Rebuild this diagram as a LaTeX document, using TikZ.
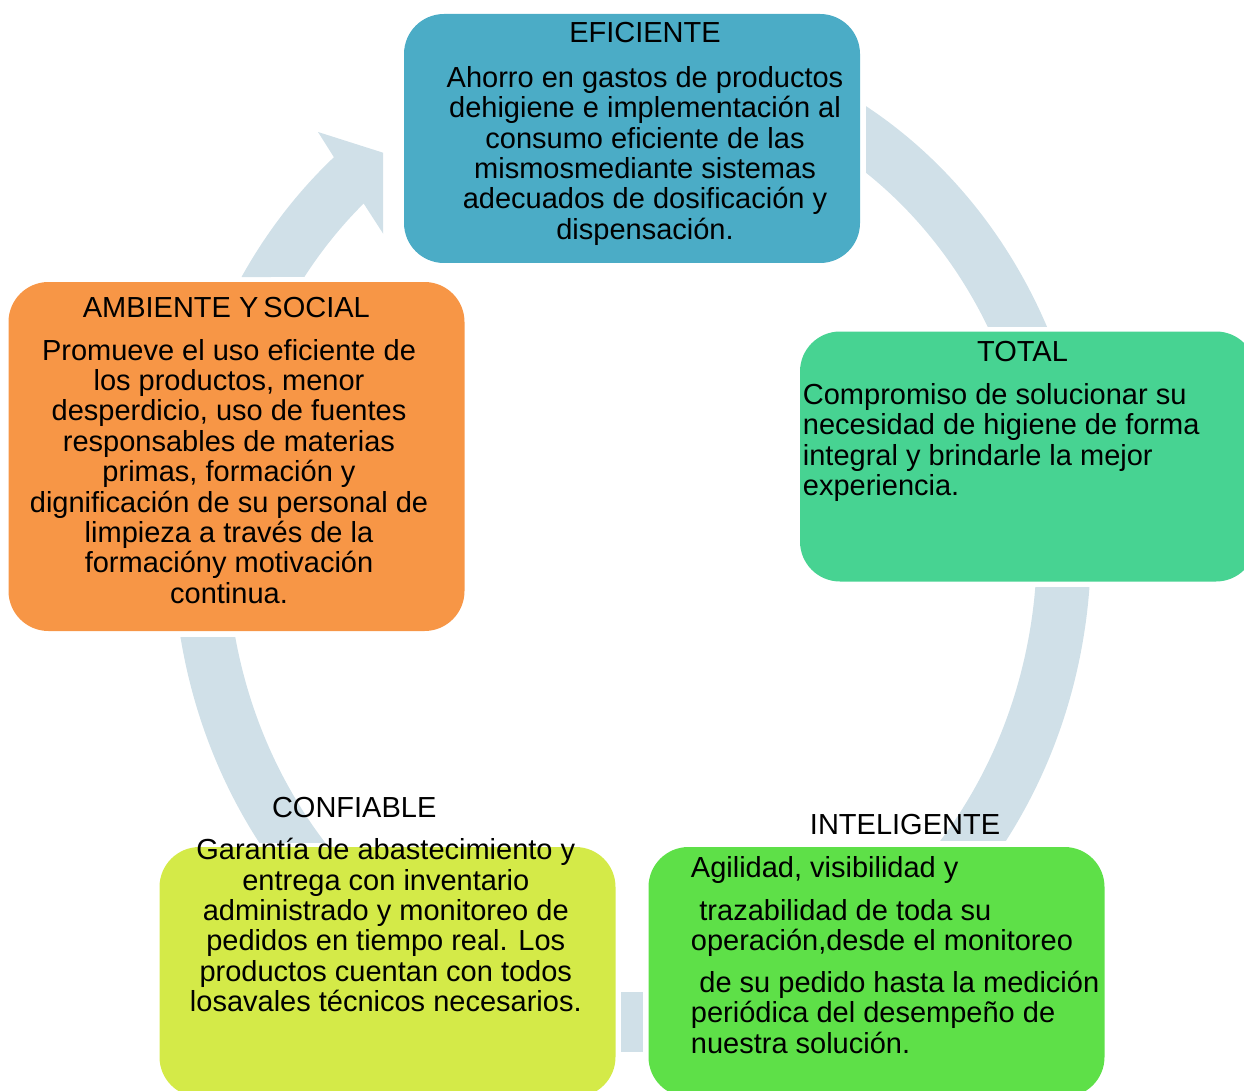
\documentclass[tikz,border=0pt]{standalone}
\usepackage{fontspec}
\setmainfont{Liberation Sans}
\definecolor{efiblue}{RGB}{75,172,198}
\definecolor{totgreen}{RGB}{71,211,146}
\definecolor{ambor}{RGB}{247,150,70}
\definecolor{confyel}{RGB}{212,234,72}
\definecolor{intgreen}{RGB}{94,224,72}
\definecolor{ringcol}{RGB}{208,224,232}

% the grey ring behind the cards
\newcommand{\cycleband}{%
  \fill[ringcol, even odd rule] (632,545) ellipse [x radius=459pt, y radius=510pt]
        (632,545) ellipse [x radius=405pt, y radius=456pt];}

\tikzset{
  card/.style={rounded corners=40pt, minimum width=456pt, inner sep=0pt},
  ttl/.style={inner sep=0pt, anchor=base, font=\fontsize{29}{30.4}\selectfont},
  txt/.style={inner sep=0pt, anchor=base, align=center, font=\fontsize{29}{30.4}\selectfont},
  txtl/.style={inner sep=0pt, anchor=base west, align=left, font=\fontsize{29}{30.4}\selectfont},
}

\begin{document}
\begin{tikzpicture}[x=1pt, y=-1pt]
    \useasboundingbox (0,0) rectangle (1244,1091);
    \clip (0,0) rectangle (1244,1091);

    % ring pieces between the cards
    \begin{scope}
        \clip (866,0) rectangle (1244,326);
        \cycleband
    \end{scope}
    \begin{scope}
        \clip (700,587) rectangle (1244,840);
        \cycleband
    \end{scope}
    \begin{scope}
        \clip (0,637) rectangle (632,842);
        \cycleband
    \end{scope}
    \fill[ringcol] (621,992) rectangle (643,1052);

    % arrow into EFICIENTE
    \begin{scope}
        \clip (0,0) rectangle (383,277);
        \fill[ringcol] plot[domain=148.3:130.5, samples=30] ({632+459*cos(\x)},{545-510*sin(\x)})
            -- (318,132) -- (450,174) -- (395,252)
            -- plot[domain=131.5:144, samples=30] ({632+405*cos(\x)},{545-456*sin(\x)}) -- cycle;
    \end{scope}

    % cards
    \node[card, fill=efiblue, minimum height=249pt] (efi) at (632,138.5) {};
    \node[card, fill=totgreen, minimum height=250pt] (tot) at (1028,456.5) {};
    \node[card, fill=ambor, minimum height=349pt] (amb) at (236.5,456.5) {};
    \node[card, fill=confyel, minimum height=250pt] (conf) at (387.5,972) {};
    \node[card, fill=intgreen, minimum height=250pt] (intel) at (876.5,972) {};

    % texts (base = last line)
    \node[ttl] (efit) at (645,43) {EFICIENTE};
    \node[txt] (efib) at (645,239.3) {Ahorro en gastos de productos\\dehigiene e implementación al\\consumo eficiente de las\\mismosmediante sistemas\\adecuados de dosificación y\\dispensación.};

    \node[ttl] (tott) at (1022.5,361.7) {TOTAL};
    \node[txtl] (totb) at (802.7,495.7) {Compromiso de solucionar su\\necesidad de higiene de forma\\integral y brindarle la mejor\\experiencia.};

    \node[ttl] (ambt) at (226.3,317.7) {AMBIENTE Y\hspace{-3pt} SOCIAL};
    \node[txt] (ambb) at (229,603.3) {Promueve el uso eficiente de\\los productos, menor\\desperdicio, uso de fuentes\\responsables de materias\\primas, formación y\\dignificación de su personal de\\limpieza a través de la\\formacióny motivación\\continua.};

    \node[ttl] (conft) at (354.2,817.3) {CONFIABLE};
    \node[txt] (confb) at (385.8,1011.7) {Garantía de abastecimiento y\\entrega con inventario\\administrado y monitoreo de\\pedidos en tiempo real. Los\\productos cuentan con todos\\losavales técnicos necesarios.};

    \node[ttl] (intelt) at (905,834) {INTELIGENTE};
    \node[txtl] (intelb) at (690.7,1053.3) {Agilidad, visibilidad y\\[12.5pt]\hspace*{8.5pt}trazabilidad de toda su\\operación,desde el monitoreo\\[11.5pt]\hspace*{8.5pt}de su pedido hasta la medición\\periódica del desempeño de\\nuestra solución.};

\end{tikzpicture}
\end{document}
